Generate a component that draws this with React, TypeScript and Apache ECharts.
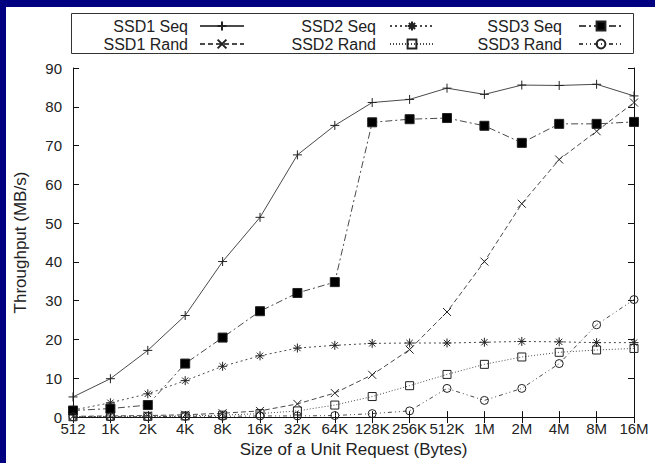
import React, { useEffect, useRef } from 'react';
import * as echarts from 'echarts';

const categories = ['512', '1K', '2K', '4K', '8K', '16K', '32K', '64K', '128K', '256K', '512K', '1M', '2M', '4M', '8M', '16M'];
const yTicks = { min: 0, max: 90, interval: 10 };

const ssd1Seq = [5.2, 9.9, 17.2, 26.2, 40.1, 51.5, 67.6, 75.2, 81.1, 81.9, 84.8, 83.2, 85.6, 85.5, 85.8, 82.8];
const ssd1Rand = [0.2, 0.3, 0.4, 0.6, 1.0, 1.6, 3.4, 6.2, 10.9, 17.4, 27.1, 40.1, 55.0, 66.4, 73.7, 81.1];
const ssd2Seq = [1.8, 3.7, 6.0, 9.4, 13.1, 15.8, 17.8, 18.5, 19.0, 19.1, 19.1, 19.3, 19.5, 19.4, 19.2, 19.2];
const ssd2Rand = [0.1, 0.2, 0.2, 0.3, 0.5, 0.9, 1.6, 3.1, 5.3, 8.1, 11.0, 13.6, 15.5, 16.7, 17.3, 17.7];
const ssd3Seq = [1.7, 2.2, 3.1, 13.8, 20.5, 27.3, 32.0, 34.8, 76.0, 76.8, 77.1, 75.1, 70.7, 75.6, 75.6, 76.1];
const ssd3Rand = [0.1, 0.1, 0.1, 0.2, 0.2, 0.3, 0.3, 0.4, 0.9, 1.6, 7.4, 4.3, 7.4, 13.8, 23.8, 30.3];

const PLUS = 'path://M5,0L5,10M0,5L10,5';
const CROSS = 'path://M0,0L10,10M10,0L0,10';
const STAR = 'path://M5,0L5,10M0,5L10,5M1.5,1.5L8.5,8.5M8.5,1.5L1.5,8.5';
const OSQUARE = 'path://M0,0L10,0L10,10L0,10Z';
const OCIRCLE = 'path://M10,5A5,5,0,1,1,0,5A5,5,0,1,1,10,5Z';

const FONT = '"Liberation Sans", Arial, Helvetica, sans-serif';
const LINE = '#4a4a4a';
const MARK = '#222';

const seriesDefs = [
  { name: 'SSD1 Seq', data: ssd1Seq, symbol: PLUS, size: 9, dash: 'solid' as any, fill: 'rgba(0,0,0,0)' },
  { name: 'SSD1 Rand', data: ssd1Rand, symbol: CROSS, size: 8, dash: [5, 3] as any, fill: 'rgba(0,0,0,0)' },
  { name: 'SSD2 Seq', data: ssd2Seq, symbol: STAR, size: 9, dash: [2, 3] as any, fill: 'rgba(0,0,0,0)' },
  { name: 'SSD2 Rand', data: ssd2Rand, symbol: OSQUARE, size: 8, dash: [1, 2] as any, fill: 'rgba(0,0,0,0)' },
  { name: 'SSD3 Seq', data: ssd3Seq, symbol: 'rect', size: 9, dash: [7, 3, 2, 3] as any, fill: '#000' },
  { name: 'SSD3 Rand', data: ssd3Rand, symbol: OCIRCLE, size: 8, dash: [4, 3, 1, 3, 1, 3] as any, fill: 'rgba(0,0,0,0)' },
];

const legendPlaces = [
  { name: 'SSD1 Seq', right: 410, top: 18, gap: 7 },
  { name: 'SSD2 Seq', right: 220, top: 18, gap: 9 },
  { name: 'SSD3 Seq', right: 31, top: 18, gap: 12 },
  { name: 'SSD1 Rand', right: 410, top: 36, gap: 7 },
  { name: 'SSD2 Rand', right: 220, top: 36, gap: 9 },
  { name: 'SSD3 Rand', right: 31, top: 36, gap: 12 },
];

export default function App() {
  const ref = useRef<HTMLDivElement>(null);
  useEffect(() => {
    const chart = echarts.init(ref.current!, null, { renderer: 'svg' });
    const option: any = {
      animation: false,
      backgroundColor: '#fff',
      textStyle: { fontFamily: FONT },
      grid: { left: 73, right: 21, top: 68, bottom: 44, containLabel: false },
      graphic: [
        { type: 'rect', shape: { x: 0, y: 0, width: 655, height: 7 }, style: { fill: '#000080' }, silent: true },
        { type: 'rect', shape: { x: 0, y: 0, width: 6, height: 463 }, style: { fill: '#000080' }, silent: true },
        { type: 'rect', shape: { x: 71.5, y: 13.5, width: 562, height: 40 }, style: { fill: 'none', stroke: '#333', lineWidth: 1 }, silent: true },
      ],
      legend: legendPlaces.map((l) => ({
        data: [l.name],
        right: l.right,
        top: l.top,
        align: 'right',
        orient: 'horizontal',
        itemWidth: 44,
        itemHeight: 11,
        padding: 0,
        selectedMode: false,
        textStyle: { fontSize: 16, color: '#222', fontFamily: FONT, padding: [0, l.gap, 0, 0] },
      })),
      xAxis: [
        {
          type: 'category',
          data: categories,
          boundaryGap: false,
          position: 'bottom',
          name: 'Size of a Unit Request (Bytes)',
          nameLocation: 'middle',
          nameGap: 21,
          nameTextStyle: { fontSize: 17, color: '#222', fontFamily: FONT },
          axisLine: { show: true, lineStyle: { color: '#111', width: 1 } },
          axisTick: { show: true, inside: true, length: 6, lineStyle: { color: '#111' } },
          axisLabel: { fontSize: 15, color: '#222', margin: 5, lineHeight: 13, fontFamily: FONT, interval: 0 },
          splitLine: { show: false },
        },
        {
          type: 'category',
          data: categories,
          boundaryGap: false,
          position: 'top',
          axisLine: { show: true, lineStyle: { color: '#111', width: 1 } },
          axisTick: { show: true, inside: true, length: 6, lineStyle: { color: '#111' } },
          axisLabel: { show: false },
          splitLine: { show: false },
        },
      ],
      yAxis: [
        {
          type: 'value',
          min: yTicks.min,
          max: yTicks.max,
          interval: yTicks.interval,
          position: 'left',
          name: 'Throughput (MB/s)',
          nameLocation: 'middle',
          nameGap: 44,
          nameTextStyle: { fontSize: 17, color: '#222', fontFamily: FONT },
          axisLine: { show: true, lineStyle: { color: '#111', width: 1 } },
          axisTick: { show: true, inside: true, length: 6, lineStyle: { color: '#111' } },
          axisLabel: { fontSize: 15, color: '#222', margin: 11, lineHeight: 11, fontFamily: FONT },
          splitLine: { show: false },
        },
        {
          type: 'value',
          min: yTicks.min,
          max: yTicks.max,
          interval: yTicks.interval,
          position: 'right',
          axisLine: { show: true, lineStyle: { color: '#111', width: 1 } },
          axisTick: { show: true, inside: true, length: 6, lineStyle: { color: '#111' } },
          axisLabel: { show: false },
          splitLine: { show: false },
        },
      ],
      series: seriesDefs.map((s) => ({
        name: s.name,
        type: 'line',
        xAxisIndex: 0,
        yAxisIndex: 0,
        data: s.data,
        symbol: s.symbol,
        symbolSize: s.size,
        showAllSymbol: true,
        clip: false,
        itemStyle: { color: s.fill, borderColor: MARK, borderWidth: 1 },
        lineStyle: { color: LINE, width: 1, type: s.dash },
        emphasis: { disabled: true },
      })),
    };
    chart.setOption(option);
    return () => chart.dispose();
  }, []);
  return (
    <div
      ref={ref}
      style={{ position: 'absolute', left: 0, top: 0, width: 655, height: 463, background: '#fff' }}
    />
  );
}
